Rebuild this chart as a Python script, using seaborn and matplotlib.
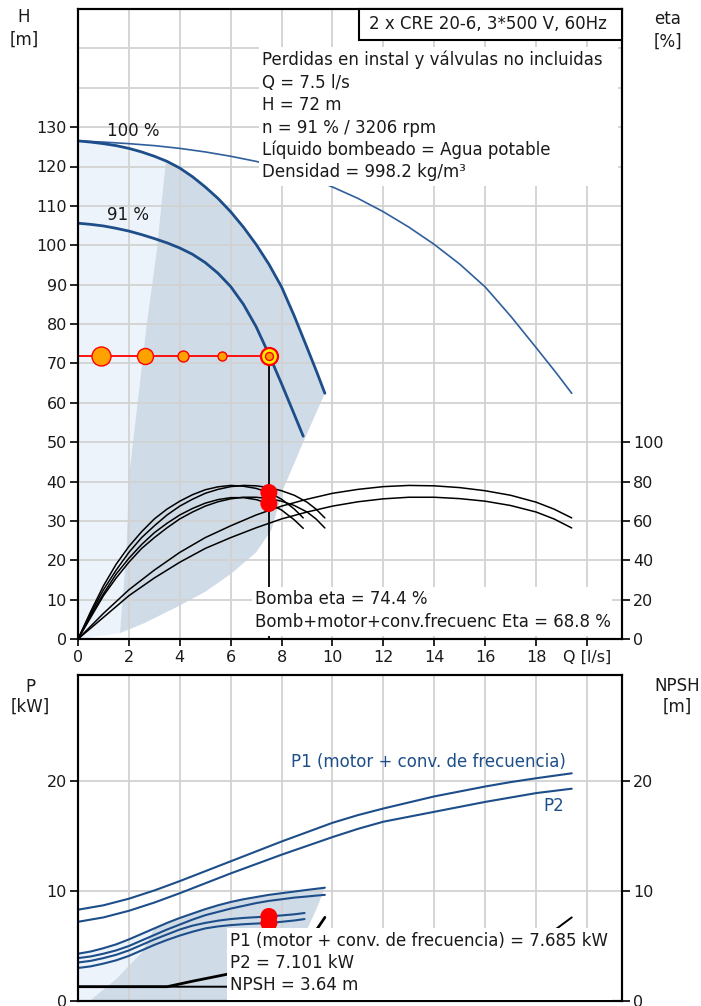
import matplotlib
matplotlib.use("Agg")
import matplotlib.pyplot as plt
import seaborn as sns
from matplotlib.patches import Rectangle

# ---------------- data ----------------
# Q-H curves, one pump at 100 % and 91 % speed, and two pumps at 100 %
q_h100 = [0, 0.5, 1, 1.5, 2, 2.5, 3, 3.5, 4, 4.5, 5, 5.5, 6, 6.5, 7, 7.5, 8, 8.5, 9, 9.4, 9.7]
h_100 = [126.5, 126.2, 125.8, 125.3, 124.6, 123.7, 122.6, 121.3, 119.6, 117.4, 114.8,
         111.9, 108.5, 104.6, 100.2, 95.2, 89.4, 82, 74, 67.5, 62.4]
q_h91 = [0, 0.5, 1, 1.5, 2, 2.5, 3, 3.5, 4, 4.5, 5, 5.5, 6, 6.5, 7, 7.5, 8, 8.5, 8.85]
h_91 = [105.6, 105.3, 104.9, 104.3, 103.6, 102.7, 101.7, 100.6, 99.3, 97.7, 95.6,
        92.9, 89.5, 85.0, 79.3, 72.3, 64.8, 57.0, 51.5]
q_h2 = [0, 1, 2, 3, 4, 5, 6, 7, 8, 9, 10, 11, 12, 13, 14, 15, 16, 17, 18, 18.8, 19.4]
h_2 = [126.5, 126.2, 125.8, 125.3, 124.6, 123.7, 122.6, 121.3, 119.6, 117.4, 114.8,
       111.9, 108.5, 104.6, 100.2, 95.2, 89.4, 82, 74, 67.5, 62.4]

# efficiency curves [%]
q_eta1 = [0, 0.5, 1, 1.5, 2, 2.5, 3, 3.5, 4, 4.5, 5, 5.5, 6, 6.5, 7, 7.5, 8, 8.5, 9, 9.35, 9.7]
eta_pump100 = [0, 13, 25, 35, 44, 51.5, 57.5, 63, 67.5, 71, 74, 76, 77.4, 78, 77.8,
               76.9, 75.3, 73, 69.5, 66, 61.5]
eta_tot100 = [0, 11, 22, 31, 39, 46, 51.5, 56.5, 61, 64.5, 67.5, 69.7, 71.2, 72, 72,
              71.3, 70, 67.8, 64.5, 61, 56.4]
q_eta91 = [0, 0.5, 1, 1.5, 2, 2.5, 3, 3.5, 4, 4.5, 5, 5.5, 6, 6.5, 7, 7.5, 8, 8.5, 8.85]
eta_pump91 = [0, 14, 27, 38, 47, 54.5, 61, 66, 70, 73.3, 75.8, 77.3, 78, 77.6, 76.5,
              74.4, 71, 66, 61.5]
eta_tot91 = [0, 12, 23, 33, 41, 48, 54, 58.8, 63, 66.3, 69, 70.8, 71.8, 71.8, 70.8,
             68.8, 65.5, 60.5, 56.2]
q_eta2 = [0, 1, 2, 3, 4, 5, 6, 7, 8, 9, 10, 11, 12, 13, 14, 15, 16, 17, 18, 18.7, 19.4]
eta_pump2 = [0, 13, 25, 35, 44, 51.5, 57.5, 63, 67.5, 71, 74, 76, 77.4, 78, 77.8,
             76.9, 75.3, 73, 69.5, 66, 61.5]
eta_tot2 = [0, 11, 22, 31, 39, 46, 51.5, 56.5, 61, 64.5, 67.5, 69.7, 71.2, 72, 72,
            71.3, 70, 67.8, 64.5, 61, 56.4]

# duty point
op_q = 7.5
op_h = 72
op_eta_pump = 74.4
op_eta_total = 68.8
op_p1 = 7.685
op_p2 = 7.101
op_npsh = 3.64
# orange points along the duty line (Q values)
op_line_q = [0.9, 2.63, 4.11, 5.65]

# shaded operating ranges in the Q-H chart
light_top_q = [0, 0, 1, 2, 3, 3.45, 3.1, 2.7, 2.0, 1.9, 1.65]
light_top_h = [0, 126.5, 125.8, 124.6, 122.6, 121.4, 99, 80, 41, 22, 1.5]
dark_top_q = [1.65, 1.9, 2.0, 2.7, 3.1, 3.45, 3.5, 4, 4.5, 5, 5.5, 6, 6.5, 7, 7.5,
              8, 8.5, 9, 9.4, 9.7, 8.85, 8.06, 7.6, 7, 6, 5, 4, 2.6, 1.65]
dark_top_h = [1.5, 22, 41, 80, 99, 121.4, 121.3, 119.6, 117.4, 114.8, 111.9, 108.5,
              104.6, 100.2, 95.2, 89.4, 82, 74, 67.5, 62.4, 50, 38, 27.7, 22, 16.5,
              12, 8.5, 4, 1.5]

# power curves [kW]
q_p100 = [0, 0.5, 1, 1.5, 2, 2.5, 3, 3.5, 4, 4.5, 5, 5.5, 6, 6.5, 7, 7.5, 8, 8.5, 9, 9.35, 9.7]
p1_100 = [4.3, 4.5, 4.8, 5.15, 5.6, 6.1, 6.6, 7.1, 7.55, 7.95, 8.35, 8.7, 9.0, 9.25,
          9.45, 9.65, 9.8, 9.95, 10.1, 10.2, 10.3]
p2_100 = [3.9, 4.05, 4.3, 4.6, 5.0, 5.5, 6.0, 6.5, 6.95, 7.4, 7.8, 8.1, 8.4, 8.65,
          8.9, 9.1, 9.25, 9.4, 9.5, 9.58, 9.65]
q_p91 = [0, 0.5, 1, 1.5, 2, 2.5, 3, 3.5, 4, 4.5, 5, 5.5, 6, 6.5, 7, 7.5, 8, 8.5, 8.9]
p1_91 = [3.5, 3.65, 3.9, 4.2, 4.6, 5.1, 5.6, 6.05, 6.5, 6.85, 7.1, 7.3, 7.45, 7.55,
         7.62, 7.69, 7.78, 7.88, 8.0]
p2_91 = [3.0, 3.15, 3.4, 3.7, 4.1, 4.6, 5.1, 5.55, 5.95, 6.3, 6.6, 6.78, 6.9, 6.98,
         7.04, 7.1, 7.2, 7.32, 7.45]
q_p2 = [0, 1, 2, 3, 4, 5, 6, 7, 8, 9, 10, 11, 12, 13, 14, 15, 16, 17, 18, 19.4]
p1_2 = [8.3, 8.7, 9.3, 10.05, 10.9, 11.8, 12.7, 13.6, 14.5, 15.35, 16.2, 16.9, 17.5,
        18.05, 18.6, 19.05, 19.5, 19.9, 20.25, 20.7]
p2_2 = [7.2, 7.6, 8.2, 8.95, 9.8, 10.7, 11.6, 12.45, 13.3, 14.1, 14.9, 15.65, 16.3,
        16.75, 17.2, 17.65, 18.1, 18.5, 18.9, 19.3]

# NPSH curves [m]
q_npsh1 = [0, 3.5, 4.5, 5.9, 7, 8, 9, 9.43, 9.7]
npsh1 = [1.3, 1.3, 1.8, 2.45, 3.1, 4.0, 5.4, 6.67, 7.6]
q_npsh2 = [0, 7, 9, 11.8, 14, 16, 18, 18.86, 19.4]
npsh2 = [1.3, 1.3, 1.8, 2.45, 3.1, 4.0, 5.4, 6.67, 7.6]

# shaded range in the power chart
light_bot_q = [0, 0, 1, 2, 3, 2.5, 1.5, 0.45]
light_bot_p = [0, 4.3, 4.8, 5.6, 6.6, 4.4, 2.0, 0]
dark_bot_q = [0.45, 1.5, 2.5, 3, 3.5, 4, 4.5, 5, 5.5, 6, 6.5, 7, 7.5, 8, 8.5, 9, 9.35,
              9.7, 9.36, 7.7]
dark_bot_p = [0, 2.0, 4.4, 6.6, 7.1, 7.55, 7.95, 8.35, 8.7, 9.0, 9.25, 9.45, 9.65, 9.8,
              9.95, 10.1, 10.2, 10.3, 8.3, 0]

# tick labels / texts
x_ticks = [0, 2, 4, 6, 8, 10, 12, 14, 16, 18, 20]
x_ticklabels = ["0", "2", "4", "6", "8", "10", "12", "14", "16", "18", "Q [l/s]"]
h_ticks = list(range(0, 131, 10))
eta_ticks = [0, 20, 40, 60, 80, 100]
p_ticks = [0, 10, 20]
title_text = "2 x CRE 20-6, 3*500 V, 60Hz"
info_lines = ["Perdidas en instal y válvulas no incluidas", "Q = 7.5 l/s", "H = 72 m",
              "n = 91 % / 3206 rpm", "Líquido bombeado = Agua potable",
              "Densidad = 998.2 kg/m³"]
eta_lines = ["Bomba eta = 74.4 %", "Bomb+motor+conv.frecuenc Eta = 68.8 %"]
p_lines = ["P1 (motor + conv. de frecuencia) = 7.685 kW", "P2 = 7.101 kW", "NPSH = 3.64 m"]

# ---------------- style ----------------
sns.set_theme(style="white")
plt.rcParams['font.family'] = ['DejaVu Sans']

BLUE = '#1d4e89'
BLUE_THIN = '#2f5f9c'
LIGHT = '#ecf3fb'
DARK = '#cfdbe7'
GRID = '#d2d2d2'
TXT = '#1a1a1a'
FS = 12
TFS = 11.5

W, Hh = 701, 1006
fig = plt.figure(figsize=(W / 100, Hh / 100), dpi=100)
L, R = 78, 622
T1, B1 = 9, 639
T2, B2 = 675, 1001
ax1 = fig.add_axes([L / W, 1 - B1 / Hh, (R - L) / W, (B1 - T1) / Hh])
ax2 = fig.add_axes([L / W, 1 - B2 / Hh, (R - L) / W, (B2 - T2) / Hh])
XMAX = (R - L) / 25.45
ax1.set_xlim(0, XMAX)
ax1.set_ylim(0, 160)
ax2.set_xlim(0, XMAX)
ax2.set_ylim(0, (B2 - T2) / 11.0)
ax1b = ax1.twinx()
ax1b.set_ylim(0, 320)
ax2b = ax2.twinx()
ax2b.set_ylim(ax2.get_ylim())


def ax1_xy(px, py):
    return (px - L) / (R - L), (B1 - py) / (B1 - T1)


def ax2_xy(px, py):
    return (px - L) / (R - L), (B2 - py) / (B2 - T2)


def line(ax, q, v, color, lw, z=2):
    sns.lineplot(x=q, y=v, ax=ax, color=color, linewidth=lw, sort=False,
                 estimator=None, legend=False, zorder=z)


# ---------------- top chart ----------------
ax1.fill(light_top_q, light_top_h, color=LIGHT, lw=0, zorder=0.5)
ax1.fill(dark_top_q, dark_top_h, color=DARK, lw=0, zorder=0.6)
for x in x_ticks[1:]:
    ax1.axvline(x, color=GRID, lw=1.3, zorder=0.8)
for h in range(10, 151, 10):
    ax1.axhline(h, color=GRID, lw=1.3, zorder=0.8)

line(ax1, q_h2, h_2, BLUE_THIN, 1.2)
line(ax1, q_h100, h_100, BLUE, 2.0)
line(ax1, q_h91, h_91, BLUE, 2.0)

# duty line and points
line(ax1, [0, op_q], [op_h, op_h], 'red', 1.3, z=2.5)
line(ax1, [op_q, op_q], [op_h, 0], 'black', 1.3, z=2.5)
for q, d in zip(op_line_q, [19, 16, 11, 9]):
    sns.scatterplot(x=[q], y=[op_h], ax=ax1, s=(d * 0.72) ** 2, color='#ffa200',
                    edgecolor='red', linewidth=1.0, zorder=3, legend=False)
sns.scatterplot(x=[op_q], y=[op_h], ax=ax1, s=(17 * 0.72) ** 2, color='#ffee00',
                edgecolor='red', linewidth=1.6, zorder=3, legend=False)
sns.scatterplot(x=[op_q], y=[op_h], ax=ax1, s=(8 * 0.72) ** 2, color='#ff9a00',
                edgecolor='red', linewidth=1.0, zorder=3.1, legend=False)

# efficiency curves (right axis)
for q, e in [(q_eta1, eta_pump100), (q_eta1, eta_tot100), (q_eta91, eta_pump91),
             (q_eta91, eta_tot91), (q_eta2, eta_pump2), (q_eta2, eta_tot2)]:
    line(ax1b, q, e, 'black', 1.1)
sns.scatterplot(x=[op_q, op_q], y=[op_eta_pump, op_eta_total], ax=ax1b,
                s=(17 * 0.72) ** 2, color='red', edgecolor='none', zorder=4, legend=False)

# curve labels
ax1b.text(*ax1_xy(107, 131), "100 %", transform=ax1.transAxes, fontsize=FS,
          color=TXT, va='center', ha='left', zorder=6)
ax1b.text(*ax1_xy(107, 215), "91 %", transform=ax1.transAxes, fontsize=FS,
          color=TXT, va='center', ha='left', zorder=6)

# info block
x0, y0 = ax1_xy(259, 186)
x1, y1 = ax1_xy(618, 47)
ax1b.add_patch(Rectangle((x0, y0), x1 - x0, y1 - y0, transform=ax1.transAxes,
                         facecolor='white', edgecolor='none', zorder=5))
for txt, py in zip(info_lines, [60, 83, 105, 128, 150, 172]):
    ax1b.text(*ax1_xy(262, py), txt, transform=ax1.transAxes, fontsize=FS,
              color=TXT, va='center', ha='left', zorder=6)

# title box
x0, y0 = ax1_xy(359, 40)
ax1b.add_patch(Rectangle((x0, y0), 1 - x0, 1 - y0, transform=ax1.transAxes,
                         facecolor='white', edgecolor='black', lw=1.5, zorder=6,
                         clip_on=False))
ax1b.text(*ax1_xy(488, 24), title_text, transform=ax1.transAxes, fontsize=FS,
          color=TXT, va='center', ha='center', zorder=7)

# efficiency result box
x0, y0 = ax1_xy(252, 636)
x1, y1 = ax1_xy(612, 587)
ax1b.add_patch(Rectangle((x0, y0), x1 - x0, y1 - y0, transform=ax1.transAxes,
                         facecolor='white', edgecolor='none', zorder=5))
for txt, py in zip(eta_lines, [599, 622]):
    ax1b.text(*ax1_xy(255, py), txt, transform=ax1.transAxes, fontsize=FS,
              color=TXT, va='center', ha='left', zorder=6)

# axes styling top
ax1.set_xticks(x_ticks)
ax1.set_xticklabels(x_ticklabels)
ax1.set_yticks(h_ticks)
ax1b.set_yticks(eta_ticks)
for a in (ax1, ax1b, ax2, ax2b):
    for s in a.spines.values():
        s.set_color('black')
        s.set_linewidth(1.5)
ax1.tick_params(axis='x', direction='out', length=5, width=1.2, pad=3,
                labelsize=TFS, color='black', labelcolor=TXT, bottom=True)
ax1.tick_params(axis='y', direction='out', length=6, width=1.2, pad=2,
                labelsize=TFS, color='black', labelcolor=TXT, left=True)
ax1b.tick_params(axis='y', direction='out', length=6, width=1.2, pad=2,
                 labelsize=TFS, color='black', labelcolor=TXT, right=True)
ax1.set_xlabel("")
ax1.set_ylabel("")
ax1b.set_ylabel("")

# ---------------- bottom chart ----------------
ax2.fill(light_bot_q, light_bot_p, color=LIGHT, lw=0, zorder=0.5)
ax2.fill(dark_bot_q, dark_bot_p, color=DARK, lw=0, zorder=0.6)
for x in x_ticks[1:]:
    ax2.axvline(x, color=GRID, lw=1.3, zorder=0.8)
for p in [10, 20]:
    ax2.axhline(p, color=GRID, lw=1.3, zorder=0.8)

for q, p in [(q_p2, p1_2), (q_p2, p2_2), (q_p100, p1_100), (q_p100, p2_100),
             (q_p91, p1_91), (q_p91, p2_91)]:
    line(ax2, q, p, BLUE, 1.5)
line(ax2, q_npsh2, npsh2, 'black', 1.4)
line(ax2, q_npsh1, npsh1, 'black', 2.0)
sns.scatterplot(x=[op_q, op_q], y=[op_p1, op_p2], ax=ax2, s=(17 * 0.72) ** 2,
                color='red', edgecolor='none', zorder=4, legend=False)

ax2b.text(*ax2_xy(291, 762), "P1 (motor + conv. de frecuencia)", transform=ax2.transAxes,
          fontsize=FS, color=BLUE, va='center', ha='left', zorder=6)
ax2b.text(*ax2_xy(543, 806), "P2", transform=ax2.transAxes,
          fontsize=FS, color=BLUE, va='center', ha='left', zorder=6)

x0, y0 = ax2_xy(227, 1000)
x1, y1 = ax2_xy(612, 928)
ax2b.add_patch(Rectangle((x0, y0), x1 - x0, y1 - y0, transform=ax2.transAxes,
                         facecolor='white', edgecolor='none', zorder=5))
for txt, py in zip(p_lines, [941, 963, 985]):
    ax2b.text(*ax2_xy(230, py), txt, transform=ax2.transAxes, fontsize=FS,
              color=TXT, va='center', ha='left', zorder=6)

ax2.set_xticks(x_ticks)
ax2.set_xticklabels([])
ax2.set_yticks(p_ticks)
ax2b.set_yticks(p_ticks)
ax2.tick_params(axis='x', length=0)
ax2.tick_params(axis='y', direction='out', length=6, width=1.2, pad=2,
                labelsize=TFS, color='black', labelcolor=TXT, left=True)
ax2b.tick_params(axis='y', direction='out', length=6, width=1.2, pad=2,
                 labelsize=TFS, color='black', labelcolor=TXT, right=True)
ax2.set_xlabel("")
ax2.set_ylabel("")
ax2b.set_ylabel("")

# axis titles
for txt, px, py in [("H", 24, 17), ("[m]", 24, 40), ("eta", 668, 19), ("[%]", 668, 42),
                    ("P", 30, 687), ("[kW]", 30, 707), ("NPSH", 677, 686), ("[m]", 677, 707)]:
    fig.text(px / W, 1 - py / Hh, txt, fontsize=FS, color=TXT, ha='center', va='center')

fig.savefig("out.png", dpi=100)
